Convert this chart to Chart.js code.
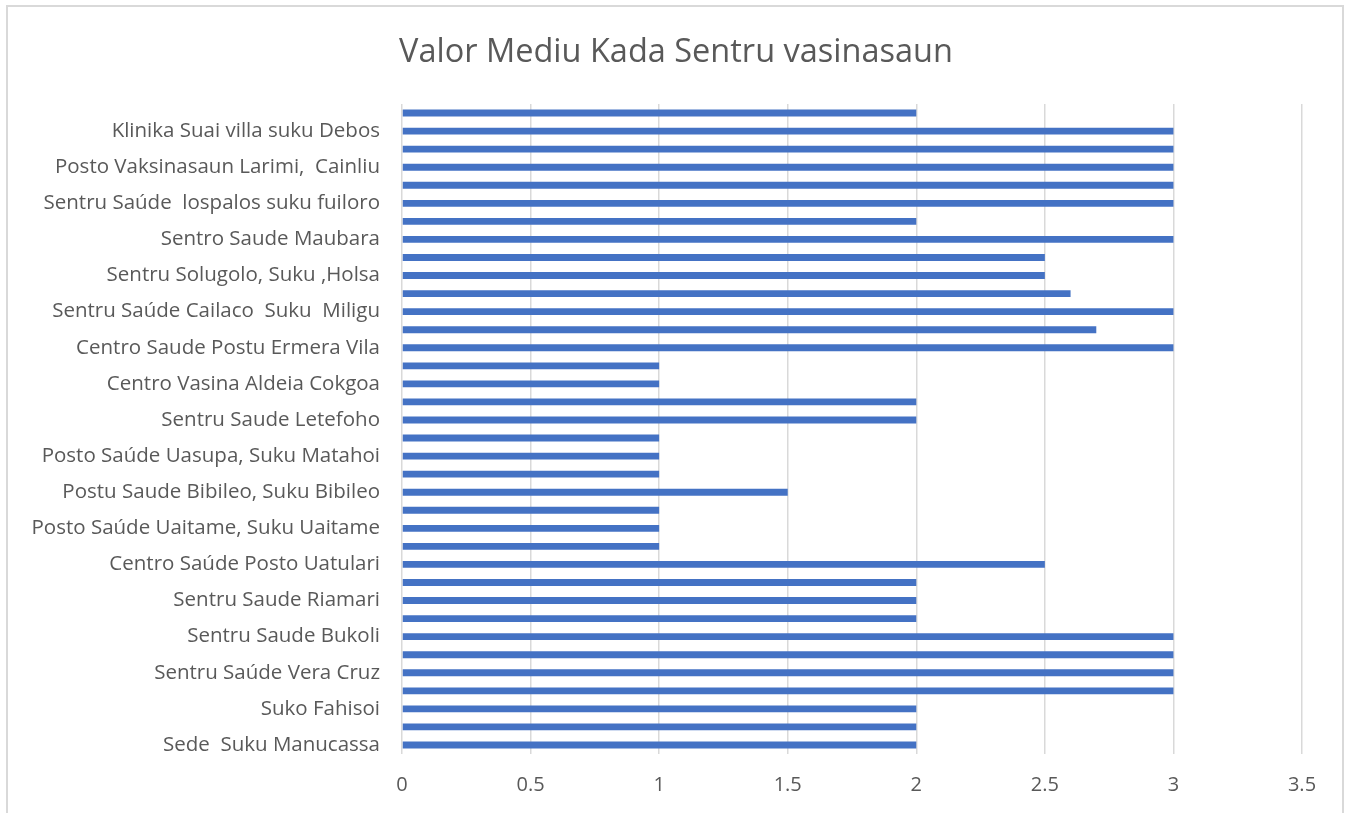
<!DOCTYPE html>
<html>
<head>
<meta charset="utf-8">
<script src="https://cdn.jsdelivr.net/npm/chart.js@4"></script>
<style>
  html, body { margin: 0; padding: 0; background: #fff; overflow: hidden; }
  #wrap { position: relative; width: 1352px; height: 813px; }
  #frame { position: absolute; left: 6px; top: 5px; width: 1338px; height: 900px; border: 2px solid #d9d9d9; box-sizing: border-box; }
  canvas { position: absolute; left: 0; top: 0; }
</style>
</head>
<body>
<div id="wrap">
  <div id="frame"></div>
  <canvas id="valorChart" width="1352" height="813"></canvas>
</div>
<script>
// Categories listed top to bottom; unlabeled rows (Excel skipped their names) are ''
const centres = [
    '', 'Klinika Suai villa suku Debos',
    '', 'Posto Vaksinasaun Larimi,  Cainliu',
    '', 'Sentru Saúde  lospalos suku fuiloro',
    '', 'Sentro Saude Maubara',
    '', 'Sentru Solugolo, Suku ,Holsa',
    '', 'Sentru Saúde Cailaco  Suku  Miligu',
    '', 'Centro Saude Postu Ermera Vila',
    '', 'Centro Vasina Aldeia Cokgoa',
    '', 'Sentru Saude Letefoho',
    '', 'Posto Saúde Uasupa, Suku Matahoi',
    '', 'Postu Saude Bibileo, Suku Bibileo',
    '', 'Posto Saúde Uaitame, Suku Uaitame',
    '', 'Centro Saúde Posto Uatulari',
    '', 'Sentru Saude Riamari',
    '', 'Sentru Saude Bukoli',
    '', 'Sentru Saúde Vera Cruz',
    '', 'Suko Fahisoi',
    '', 'Sede  Suku Manucassa'
];

const valorMediu = [
    2, 3,
    3, 3,
    3, 3,
    2, 3,
    2.5, 2.5,
    2.6, 3,
    2.7, 3,
    1, 1,
    2, 2,
    1, 1,
    1, 1.5,
    1, 1,
    1, 2.5,
    2, 2,
    2, 3,
    3, 3,
    3, 2,
    2, 2
];

const chartTitle = 'Valor Mediu Kada Sentru vasinasaun';
const axisMin = 0;
const axisMax = 3.5;
const axisStep = 0.5;

const textColor = '#595959';
const fontFamily = '"Open Sans", sans-serif';

new Chart(document.getElementById('valorChart').getContext('2d'), {
    type: 'bar',
    data: {
        labels: centres,
        datasets: [{
            data: valorMediu,
            backgroundColor: '#4472C4',
            borderWidth: 0,
            barPercentage: 0.38,
            categoryPercentage: 1
        }]
    },
    options: {
        indexAxis: 'y',
        responsive: false,
        animation: false,
        layout: { padding: 0 },
        plugins: {
            legend: { display: false },
            tooltip: { enabled: false },
            title: {
                display: true,
                text: chartTitle,
                color: textColor,
                font: { family: fontFamily, size: 32.5, weight: 'normal' },
                padding: { top: 33, bottom: 32 }
            }
        },
        scales: {
            x: {
                min: axisMin,
                max: axisMax,
                ticks: {
                    stepSize: axisStep,
                    color: textColor,
                    font: { family: fontFamily, size: 20 },
                    padding: 19,
                    callback: value => String(value)
                },
                grid: { color: '#d9d9d9', lineWidth: 1.5, drawTicks: false },
                border: { display: false },
                // right margin comes from the axis so the title stays centred on the canvas
                afterFit: function (scale) {
                    scale.height = 59;
                    scale.paddingRight = 50;
                }
            },
            y: {
                ticks: {
                    autoSkip: false,
                    color: textColor,
                    font: { family: fontFamily, size: 20.5 },
                    padding: 22
                },
                grid: { display: false, drawTicks: false },
                border: { display: false },
                afterFit: function (scale) { scale.width = 402; }
            }
        }
    }
});
</script>
</body>
</html>
